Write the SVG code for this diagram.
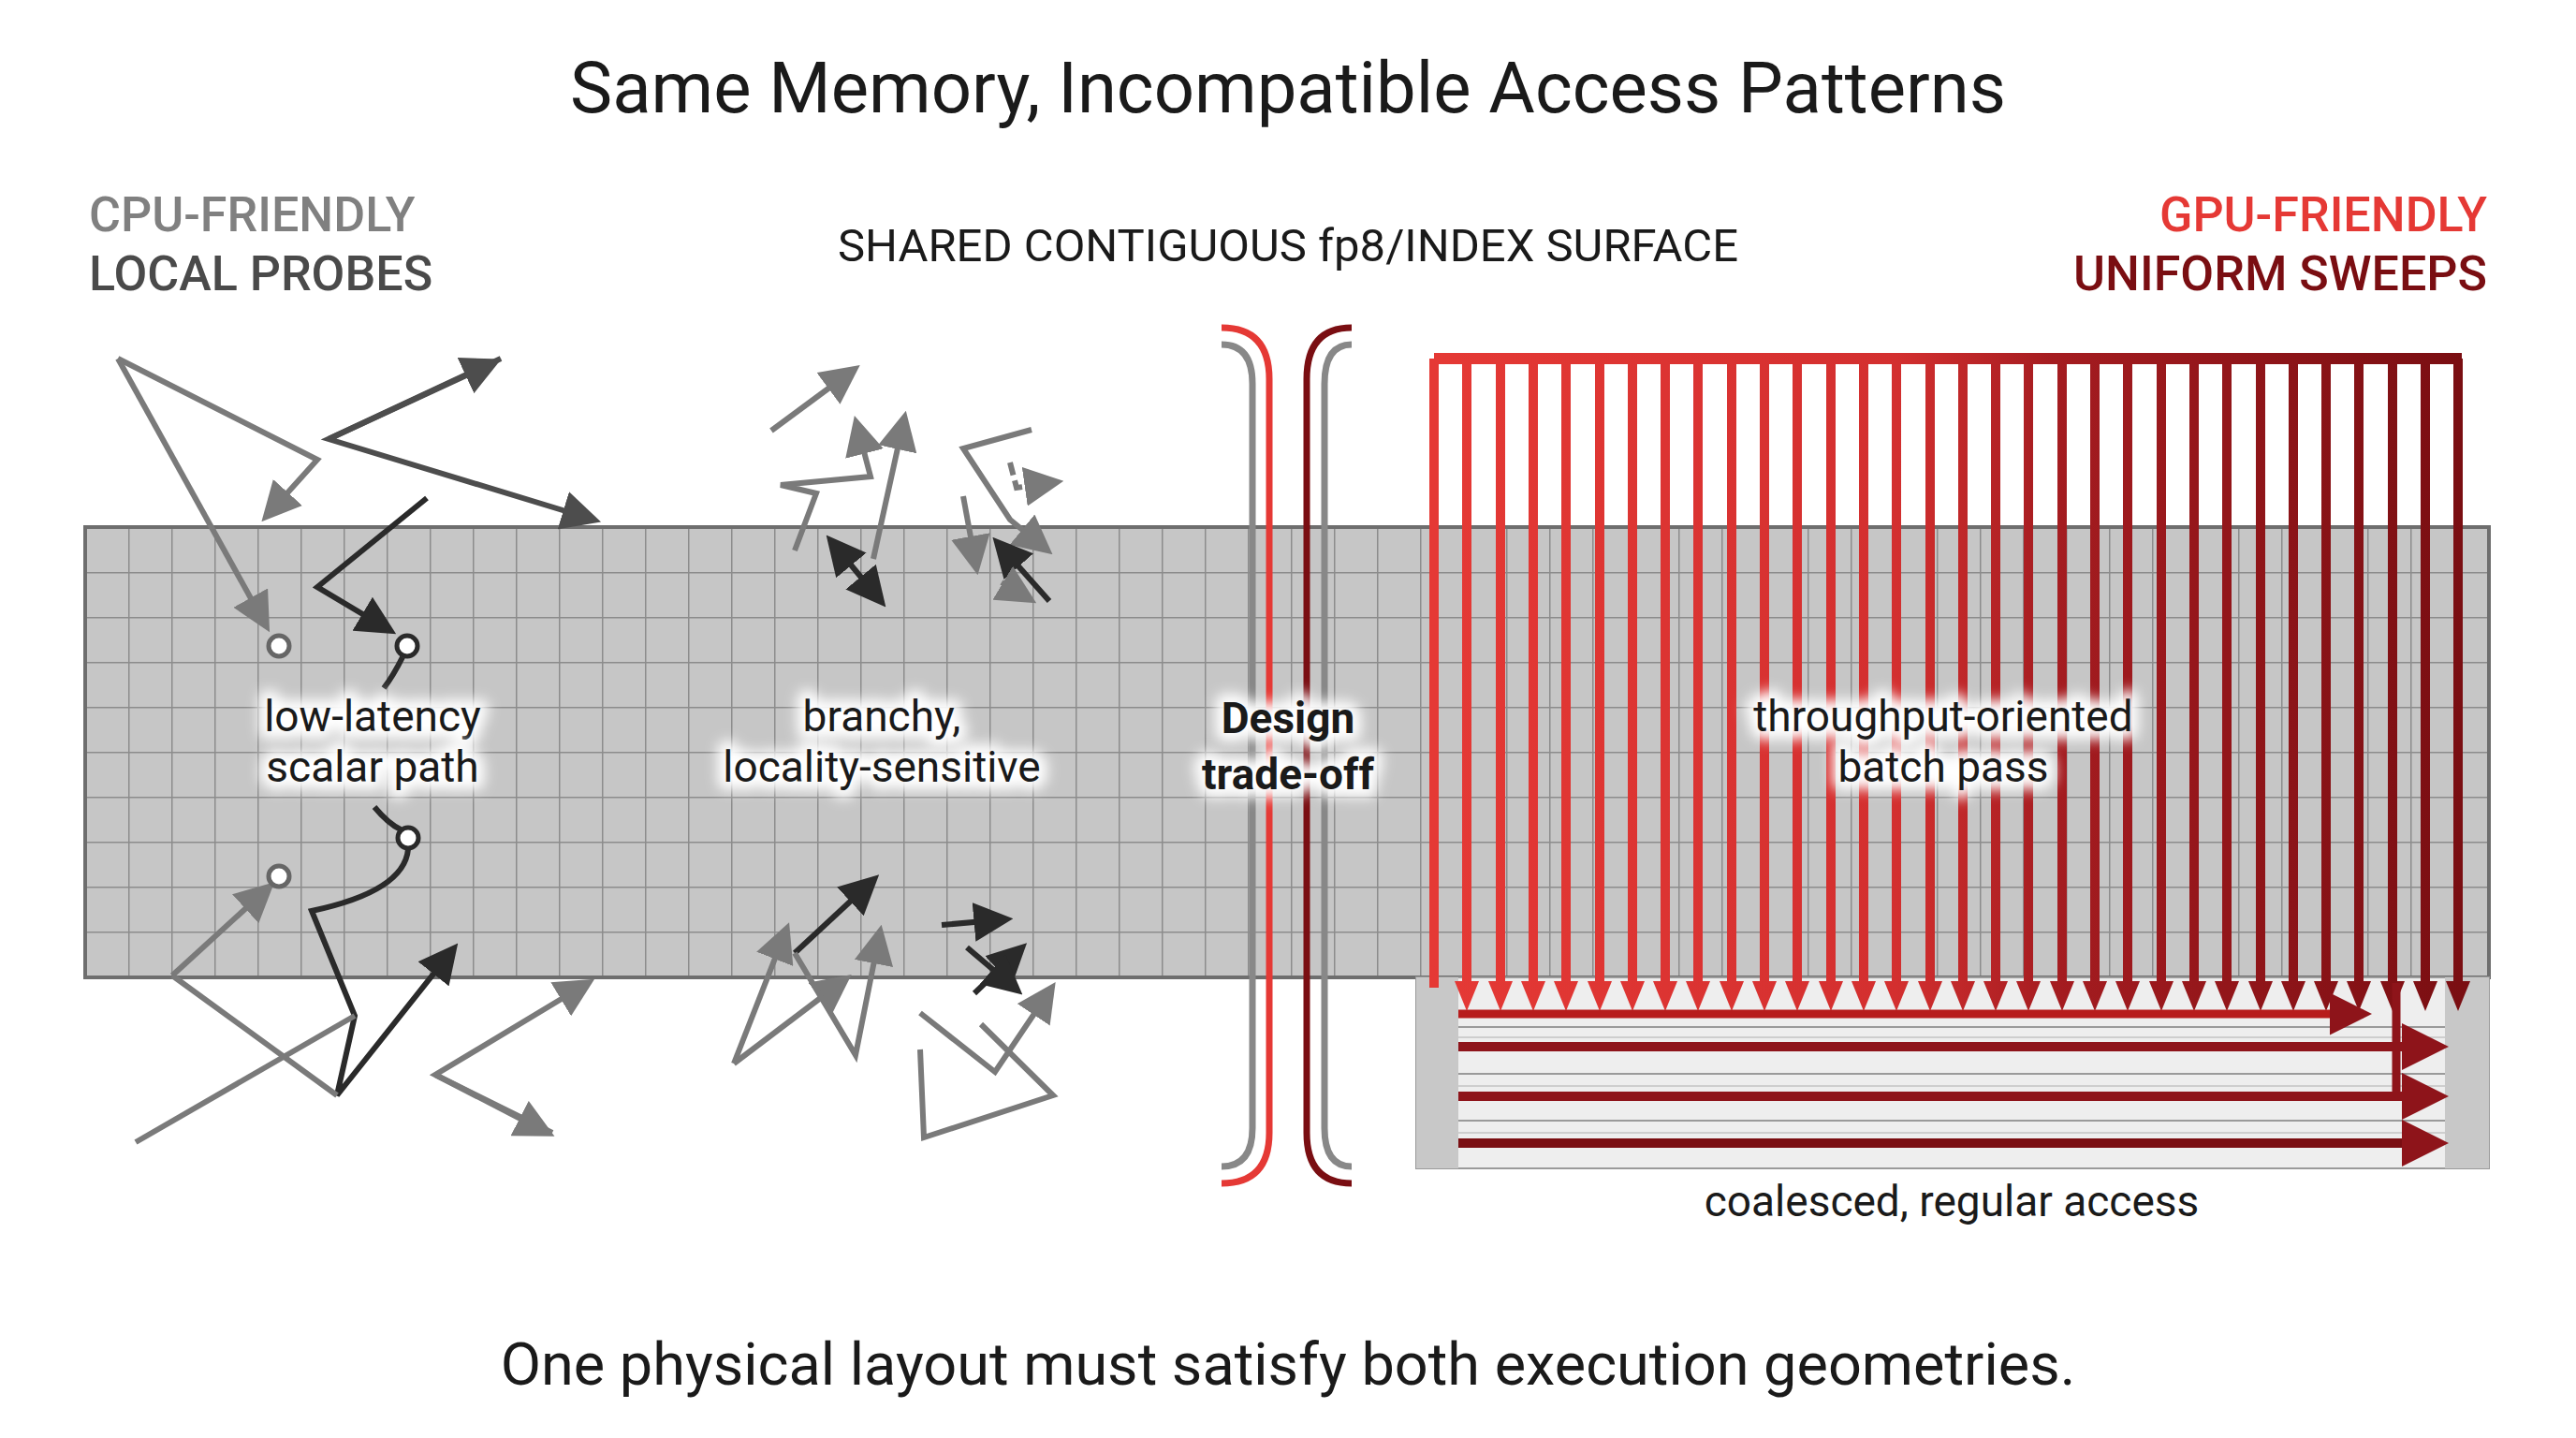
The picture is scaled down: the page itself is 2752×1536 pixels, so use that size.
<svg xmlns="http://www.w3.org/2000/svg" width="2752" height="1536" viewBox="0 0 2752 1536">
<defs>
<style>
text{font-family:Roboto,"Liberation Sans",sans-serif}
.t{fill:#1a1a1a;text-anchor:middle}
.lab{font-size:46px;fill:#1a1a1a;text-anchor:middle}
.halo{stroke:#fff;stroke-width:18;stroke-linejoin:round;fill:#fff;filter:url(#bl)}
.g{fill:none;stroke:#7a7a7a;stroke-width:6;stroke-linejoin:miter}
.d{fill:none;stroke:#4d4d4d;stroke-width:6}
.k{fill:none;stroke:#2a2a2a;stroke-width:6}
</style>
<filter id="bl" x="-20%" y="-50%" width="140%" height="200%"><feGaussianBlur stdDeviation="7"/></filter>
<pattern id="grid" patternUnits="userSpaceOnUse" x="91" y="563" width="46" height="48">
<rect width="46" height="48" fill="#c6c6c6"/>
<path d="M0,0 H46 M0,0 V48" stroke="#8c8c8c" stroke-width="3" fill="none"/>
</pattern>
<linearGradient id="rg" gradientUnits="userSpaceOnUse" x1="1532" y1="0" x2="2630" y2="0">
<stop offset="0" stop-color="#e53935"/><stop offset="0.45" stop-color="#d32f2f"/><stop offset="0.6" stop-color="#a51c20"/><stop offset="1" stop-color="#7a0e12"/>
</linearGradient>
<marker id="ag" viewBox="0 0 10 10" refX="8" refY="5" markerWidth="7" markerHeight="7" markerUnits="strokeWidth" orient="auto"><path d="M0,0 L10,5 L0,10 Z" fill="#7a7a7a"/></marker>
<marker id="ad" viewBox="0 0 10 10" refX="8" refY="5" markerWidth="7" markerHeight="7" markerUnits="strokeWidth" orient="auto"><path d="M0,0 L10,5 L0,10 Z" fill="#4d4d4d"/></marker>
<marker id="ak" viewBox="0 0 10 10" refX="8" refY="5" markerWidth="7" markerHeight="7" markerUnits="strokeWidth" orient="auto-start-reverse"><path d="M0,0 L10,5 L0,10 Z" fill="#2a2a2a"/></marker>
<marker id="ar" viewBox="0 0 10 10" refX="8" refY="5" markerWidth="5" markerHeight="5" markerUnits="strokeWidth" orient="auto"><path d="M0,0 L10,5 L0,10 Z" fill="#8e141a"/></marker>
</defs>
<rect width="2752" height="1536" fill="#fff"/>

<g id="headers">
<text x="1376" y="120" class="t" font-size="76">Same Memory, Incompatible Access Patterns</text>
<text x="95" y="247" font-size="52" fill="#808080" font-weight="500">CPU-FRIENDLY</text>
<text x="95" y="310" font-size="52" fill="#4a4a4a" font-weight="500">LOCAL PROBES</text>
<text x="1376" y="279" class="t" font-size="49">SHARED CONTIGUOUS fp8/INDEX SURFACE</text>
<text x="2657" y="247" font-size="52" fill="#e53935" font-weight="500" text-anchor="end">GPU-FRIENDLY</text>
<text x="2657" y="310" font-size="52" fill="#7a0e12" font-weight="500" text-anchor="end">UNIFORM SWEEPS</text>
</g>

<g id="surface">
<rect x="91" y="563" width="2568" height="481" fill="url(#grid)" stroke="#6e6e6e" stroke-width="4"/>
</g>

<g id="batch-panel">
<rect x="1513" y="1044" width="1146" height="204" fill="#eeeeee" stroke="#9a9a9a" stroke-width="2"/>
<rect x="1513" y="1044" width="45" height="204" fill="#c8c8c8"/>
<rect x="2612" y="1044" width="47" height="204" fill="#c8c8c8"/>
<path d="M1558,1097 H2612 M1558,1147 H2612 M1558,1197 H2612" stroke="#9a9a9a" stroke-width="2"/>
<path d="M1558,1108 H2612 M1558,1160 H2612 M1558,1210 H2612" stroke="#c4c4c4" stroke-width="1.5"/>
</g>

<g id="connectors">
<path class="g" d="M126,383 L339,491 L285,551" marker-end="url(#ag)"/>
<path class="g" d="M126,383 L284,668" marker-end="url(#ag)"/>
<path class="d" d="M535,383 L351,469 L634,555" marker-end="url(#ad)"/>
<path class="d" d="M351,469 L528,387" marker-end="url(#ad)"/>
<path class="k" d="M456,532 L339,627 L416,673" marker-end="url(#ak)"/>
<path class="k" d="M430,702 Q420,722 410,735" stroke-width="4"/>
<path class="k" d="M400,862 Q415,880 428,886" stroke-width="4"/>
<path class="k" d="M436,907 Q432,952 333,973 L379,1085 L360,1170 L484,1014" marker-end="url(#ak)"/>
<path class="g" d="M184,1042 L287,948" marker-end="url(#ag)"/>
<path class="g" d="M184,1042 L360,1170"/>
<path class="g" d="M145,1220 L379,1085"/>
<path class="g" d="M590,1210 L465,1148 L628,1050" marker-end="url(#ag)"/>
<path class="g" d="M465,1148 L585,1210" marker-end="url(#ag)"/>
<circle cx="298" cy="690" r="11" fill="#fff" stroke="#666" stroke-width="5"/>
<circle cx="435" cy="690" r="11" fill="#fff" stroke="#2a2a2a" stroke-width="5"/>
<circle cx="436" cy="895" r="11" fill="#fff" stroke="#2a2a2a" stroke-width="5"/>
<circle cx="298" cy="936" r="11" fill="#fff" stroke="#666" stroke-width="5"/>
<path class="g" d="M824,460 L912,395" marker-end="url(#ag)"/>
<path class="g" d="M849,588 L872,527 L834,518 L930,509 L915,452" marker-end="url(#ag)"/>
<path class="g" d="M933,597 L966,447" marker-end="url(#ag)"/>
<path class="k" d="M941,642 L888,578" marker-end="url(#ak)" marker-start="url(#ak)"/>
<path class="g" d="M1102,459 L1029,479 L1079,555 L1118,587" marker-end="url(#ag)"/>
<path class="g" d="M1029,530 L1043,606" marker-end="url(#ag)"/>
<path class="g" d="M1079,494 L1086,521 L1128,515" marker-end="url(#ag)" stroke-dasharray="14 6"/>
<path class="k" d="M1121,642 L1066,580" marker-end="url(#ak)"/>
<path class="g" d="M1070,622 L1100,640" marker-end="url(#ag)"/>
<path class="k" d="M849,1018 L933,940" marker-end="url(#ak)"/>
<path class="g" d="M784,1136 L840,993" marker-end="url(#ag)"/>
<path class="g" d="M784,1136 L903,1046" marker-end="url(#ag)"/>
<path class="g" d="M849,1018 L914,1127 L940,996" marker-end="url(#ag)"/>
<path class="k" d="M1006,988 L1074,982" marker-end="url(#ak)"/>
<path class="k" d="M1041,1061 L1091,1013" marker-end="url(#ak)"/>
<path class="k" d="M1033,1012 L1086,1057" marker-end="url(#ak)"/>
<path class="g" d="M983,1121 L987,1215 L1125,1170 L1048,1094"/>
<path class="g" d="M983,1082 L1063,1145 L1123,1056" marker-end="url(#ag)"/>
<path d="M1305,350 Q1356,350 1356,405 V1210 Q1356,1264 1305,1264" fill="none" stroke="#e53935" stroke-width="7"/>
<path d="M1305,368 Q1338,368 1338,410 V1205 Q1338,1246 1305,1246" fill="none" stroke="#888" stroke-width="7"/>
<path d="M1444,350 Q1396,350 1396,405 V1210 Q1396,1264 1444,1264" fill="none" stroke="#7a0e12" stroke-width="7"/>
<path d="M1444,368 Q1415,368 1415,410 V1205 Q1415,1246 1444,1246" fill="none" stroke="#888" stroke-width="7"/>
<path d="M1532,383 H2630" stroke="url(#rg)" stroke-width="12" fill="none"/>
<path d="M1532,383V1055M1567,383V1050M1603,383V1050M1638,383V1050M1673,383V1050M1709,383V1050M1744,383V1050M1779,383V1050M1814,383V1050M1850,383V1050M1885,383V1050M1920,383V1050M1956,383V1050M1991,383V1050M2026,383V1050M2062,383V1050M2097,383V1050M2132,383V1050M2167,383V1050M2203,383V1050M2238,383V1050M2273,383V1050M2309,383V1050M2344,383V1050M2379,383V1050M2415,383V1050M2450,383V1050M2485,383V1050M2520,383V1050M2556,383V1050M2591,383V1050M2626,383V1050" stroke="url(#rg)" stroke-width="10" fill="none"/>
<path fill="url(#rg)" d="M1554,1048h26l-13,32zM1590,1048h26l-13,32zM1625,1048h26l-13,32zM1660,1048h26l-13,32zM1696,1048h26l-13,32zM1731,1048h26l-13,32zM1766,1048h26l-13,32zM1801,1048h26l-13,32zM1837,1048h26l-13,32zM1872,1048h26l-13,32zM1907,1048h26l-13,32zM1943,1048h26l-13,32zM1978,1048h26l-13,32zM2013,1048h26l-13,32zM2049,1048h26l-13,32zM2084,1048h26l-13,32zM2119,1048h26l-13,32zM2154,1048h26l-13,32zM2190,1048h26l-13,32zM2225,1048h26l-13,32zM2260,1048h26l-13,32zM2296,1048h26l-13,32zM2331,1048h26l-13,32zM2366,1048h26l-13,32zM2402,1048h26l-13,32zM2437,1048h26l-13,32zM2472,1048h26l-13,32zM2507,1048h26l-13,32zM2543,1048h26l-13,32zM2578,1048h26l-13,32zM2613,1048h26l-13,32z"/>
<path d="M2560,1050 V1172" stroke="#8e141a" stroke-width="9"/>
<path d="M1558,1083 H2525" stroke="#b71c1c" stroke-width="9" marker-end="url(#ar)"/>
<path d="M1558,1118 H2606" stroke="#8e141a" stroke-width="10" marker-end="url(#ar)"/>
<path d="M1558,1171 H2606" stroke="#8e141a" stroke-width="10" marker-end="url(#ar)"/>
<path d="M1558,1221 H2606" stroke="#7a0e12" stroke-width="10" marker-end="url(#ar)"/>
</g>

<g id="labels">
<text x="398" y="781" class="lab halo">low-latency</text><text x="398" y="781" class="lab">low-latency</text>
<text x="398" y="835" class="lab halo">scalar path</text><text x="398" y="835" class="lab">scalar path</text>
<text x="942" y="781" class="lab halo">branchy,</text><text x="942" y="781" class="lab">branchy,</text>
<text x="942" y="835" class="lab halo">locality-sensitive</text><text x="942" y="835" class="lab">locality-sensitive</text>
<text x="1376" y="783" class="lab halo" font-size="54" font-weight="bold">Design</text><text x="1376" y="783" class="lab" font-size="54" font-weight="bold">Design</text>
<text x="1376" y="843" class="lab halo" font-size="54" font-weight="bold">trade-off</text><text x="1376" y="843" class="lab" font-size="54" font-weight="bold">trade-off</text>
<text x="2076" y="781" class="lab halo">throughput-oriented</text><text x="2076" y="781" class="lab">throughput-oriented</text>
<text x="2076" y="835" class="lab halo">batch pass</text><text x="2076" y="835" class="lab">batch pass</text>
<text x="2085" y="1299" class="lab">coalesced, regular access</text>
<text x="1376" y="1479" class="t" font-size="63">One physical layout must satisfy both execution geometries.</text>
</g>
</svg>
